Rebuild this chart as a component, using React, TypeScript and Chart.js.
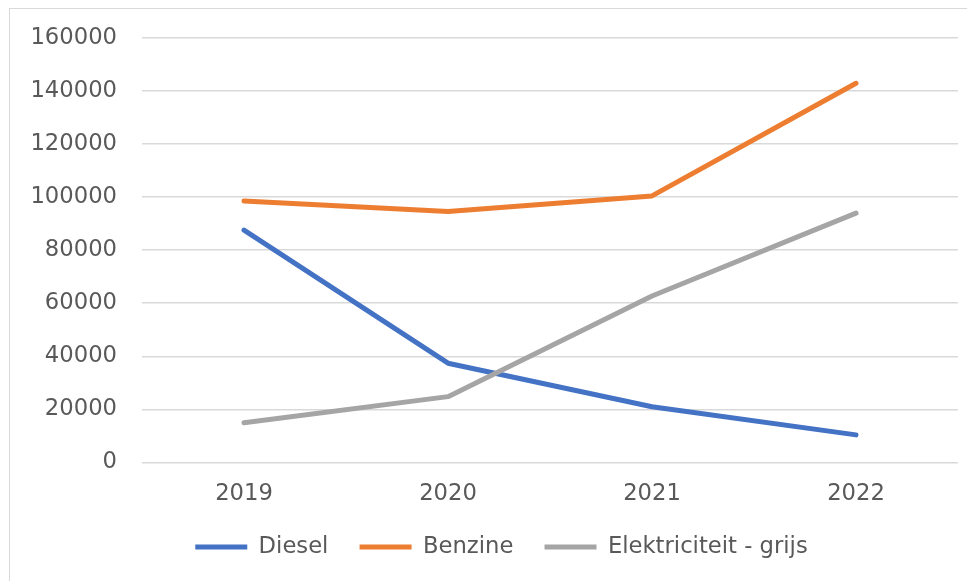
import React, { useEffect, useRef } from "react";
import { Chart, registerables } from "chart.js";

Chart.register(...registerables);

const categories = ["2019", "2020", "2021", "2022"];
const diesel = [87500, 37400, 21000, 10400];
const benzine = [98500, 94500, 100400, 142800];
const elektriciteit = [15000, 24800, 62700, 93900];
const yTicks = [0, 20000, 40000, 60000, 80000, 100000, 120000, 140000, 160000];
const seriesNames = ["Diesel", "Benzine", "Elektriciteit - grijs"];
const seriesColors = ["#4472C4", "#ED7D31", "#A5A5A5"];

const FONT = { family: "DejaVu Sans", size: 22.7 };
const TEXT = "#595959";

export default function App() {
  const ref = useRef<HTMLCanvasElement>(null);

  useEffect(() => {
    const values = [diesel, benzine, elektriciteit];
    const chart = new Chart(ref.current as HTMLCanvasElement, {
      type: "line",
      data: {
        labels: categories,
        datasets: seriesNames.map((name, i) => ({
          label: name,
          data: values[i],
          borderColor: seriesColors[i],
          backgroundColor: seriesColors[i],
          borderWidth: 5,
          borderCapStyle: "round" as const,
          borderJoinStyle: "round" as const,
          pointRadius: 0,
          pointHoverRadius: 0,
          tension: 0,
          yAxisID: "y",
          order: seriesNames.length - i,
        })),
      },
      options: {
        responsive: false,
        animation: false,
        layout: { padding: { left: 0, right: 0, top: 0, bottom: 12.65 } },
        plugins: {
          legend: {
            position: "bottom",
            labels: {
              usePointStyle: true,
              pointStyle: "line",
              pointStyleWidth: 52,
              padding: 31.15,
              color: TEXT,
              font: FONT,
              sort: (a: any, b: any) => a.datasetIndex - b.datasetIndex,
            },
          },
          tooltip: { enabled: false },
        },
        scales: {
          x: {
            offset: true,
            grid: { display: false, offset: true, drawTicks: false },
            border: { display: false },
            ticks: { color: TEXT, font: FONT, padding: 18.4 },
            afterFit: (s: any) => {
              s.height = 42;
            },
          },
          y: {
            min: 0,
            max: 160000,
            afterBuildTicks: (s: any) => {
              s.ticks = yTicks.map((v) => ({ value: v }));
            },
            ticks: {
              color: TEXT,
              font: FONT,
              padding: 25,
              callback: (v: any) => String(v),
            },
            grid: { color: "#d9d9d9", lineWidth: 1.5, drawTicks: false },
            border: { display: false },
            afterFit: (s: any) => {
              s.width = 134;
            },
          },
          y2: {
            position: "right",
            display: true,
            grid: { display: false, drawTicks: false },
            border: { display: false },
            ticks: { display: false },
            afterFit: (s: any) => {
              s.width = 37;
            },
          },
        },
      },
    } as any);
    return () => chart.destroy();
  }, []);

  return (
    <div style={{ position: "relative", width: 967, height: 573, overflow: "hidden" }}>
      <div
        style={{
          position: "absolute",
          left: 1,
          top: 0,
          width: 1100,
          height: 700,
          border: "1px solid #d9d9d9",
          boxSizing: "border-box",
        }}
      />
      <canvas
        ref={ref}
        width={987}
        height={582}
        style={{ position: "absolute", left: 0, top: -9, width: 987, height: 582 }}
      />
    </div>
  );
}
